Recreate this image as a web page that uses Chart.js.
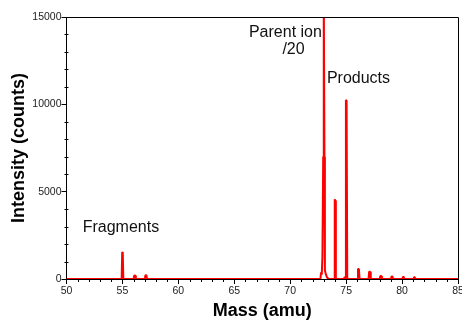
<!DOCTYPE html>
<html>
<head>
<meta charset="utf-8">
<script src="https://cdn.jsdelivr.net/npm/chart.js@4"></script>
<style>
  html, body { margin: 0; padding: 0; background: #fff; overflow: hidden; }
  #wrap { width: 462px; height: 322px; position: relative; }
</style>
</head>
<body>
<div id="wrap"><canvas id="spectrumChart"></canvas></div>
<script>
const spectrumCtx = document.getElementById("spectrumChart");

// Mass spectrum trace (parent ion already scaled by 1/20)
const massValues = [
  50, 54.93, 54.98, 55.03, 55.08,
  56.0, 56.06, 56.14, 56.2, 57.0, 57.06, 57.14, 57.2,
  72.7, 72.76, 72.82, 72.88, 72.95, 73.0, 73.06, 73.1, 73.2, 73.3, 73.45,
  73.94, 73.98, 74.03, 74.08,
  74.8, 74.88, 74.94, 74.98, 75.04, 75.1,
  76.0, 76.06, 76.14, 76.2, 77.0, 77.06, 77.14, 77.2,
  78.0, 78.06, 78.14, 78.2, 79.0, 79.06, 79.14, 79.2,
  80.0, 80.06, 80.14, 80.2, 81.0, 81.06, 81.14, 81.2, 85,
];
const countValues = [
  0, 0, 1550, 1500, 0,
  0, 200, 200, 0, 0, 220, 220, 0,
  0, 380, 250, 1300, 7000, 16500, 7000, 500, 250, 80, 0,
  0, 4560, 4500, 0,
  0, 120, 50, 10250, 10200, 0,
  0, 570, 570, 0, 0, 420, 420, 0,
  0, 170, 170, 0, 0, 150, 150, 0,
  0, 120, 120, 0, 0, 100, 100, 0, 0,
];

const xTickLabels = [50, 55, 60, 65, 70, 75, 80, 85];
const yTickLabels = [0, 5000, 10000, 15000];

// Text labels placed in data units: [text, mass, counts, align]
const notes = [
  ["Fragments", 51.45, 2700, "left"],
  ["Parent ion", 72.83, 13830, "right"],
  ["/20", 69.3, 12900, "left"],
  ["Products", 73.28, 11200, "left"],
];

const fontFamily = "'Liberation Sans', Arial, sans-serif";

// Frame on top/right plus short minor ticks and the text notes.
const decorPlugin = {
  id: "decor",
  afterDraw(chart) {
    const { ctx, chartArea, scales } = chart;
    ctx.save();
    ctx.strokeStyle = "#000";
    ctx.lineWidth = 1;
    ctx.beginPath();
    ctx.moveTo(chartArea.left, chartArea.top + 0.5);
    ctx.lineTo(chartArea.right + 0.5, chartArea.top + 0.5);
    ctx.lineTo(chartArea.right + 0.5, chartArea.bottom);
    ctx.stroke();

    ctx.beginPath();
    scales.x.ticks.forEach((t) => {
      if (xTickLabels.includes(t.value)) return;
      const px = Math.round(scales.x.getPixelForValue(t.value)) + 0.5;
      ctx.moveTo(px, chartArea.bottom);
      ctx.lineTo(px, chartArea.bottom + 3);
    });
    scales.y.ticks.forEach((t) => {
      if (yTickLabels.includes(t.value)) return;
      const py = Math.round(scales.y.getPixelForValue(t.value)) + 0.5;
      ctx.moveTo(chartArea.left - 2, py);
      ctx.lineTo(chartArea.left + 2, py);
    });
    ctx.stroke();

    ctx.fillStyle = "#111";
    ctx.font = `16px ${fontFamily}`;
    ctx.textBaseline = "alphabetic";
    notes.forEach(([text, mass, counts, align]) => {
      ctx.textAlign = align;
      ctx.fillText(text, scales.x.getPixelForValue(mass), scales.y.getPixelForValue(counts));
    });
    ctx.restore();
  },
};

const buildSpectrumChart = () => {
  new Chart(spectrumCtx, {
    type: "line",
    data: {
      datasets: [
        {
          label: "Intensity",
          data: massValues.map((m, i) => ({ x: m, y: countValues[i] })),
          borderColor: "#ff0000",
          backgroundColor: "#ff0000",
          borderWidth: 2,
          borderJoinStyle: "bevel",
          pointRadius: 0,
          tension: 0,
        },
      ],
    },
    options: {
      responsive: true,
      maintainAspectRatio: false,
      animation: false,
      layout: { padding: { top: 17, right: 4, left: 0, bottom: 0 } },
      plugins: {
        legend: { display: false },
        tooltip: { enabled: false },
      },
      scales: {
        x: {
          type: "linear",
          min: 50,
          max: 85,
          afterFit: (scale) => {
            scale.height = 43;
            scale.paddingLeft = 0;
            scale.paddingRight = 0;
          },
          border: { color: "#000", width: 1 },
          grid: {
            drawOnChartArea: false,
            tickLength: 5,
            tickColor: (c) => (xTickLabels.includes(c.tick.value) ? "#000" : "transparent"),
          },
          ticks: {
            stepSize: 1,
            autoSkip: false,
            maxRotation: 0,
            padding: 1,
            color: "#222",
            font: { family: fontFamily, size: 10.5 },
            callback: (value) => (xTickLabels.includes(value) ? String(value) : ""),
          },
          title: {
            display: true,
            text: "Mass (amu)",
            color: "#000",
            font: { family: fontFamily, size: 18, weight: "bold" },
            padding: { top: 0, bottom: 0 },
          },
        },
        y: {
          min: 0,
          max: 15000,
          afterFit: (scale) => {
            scale.width = 66.5;
            scale.paddingTop = 0;
            scale.paddingBottom = 0;
          },
          border: { color: "#000", width: 1 },
          grid: {
            drawOnChartArea: false,
            tickLength: 5,
            tickColor: (c) => (yTickLabels.includes(c.tick.value) ? "#000" : "transparent"),
          },
          ticks: {
            stepSize: 1000,
            autoSkip: false,
            padding: 0,
            color: "#222",
            font: { family: fontFamily, size: 10.5 },
            callback: (value) => (yTickLabels.includes(value) ? String(value) : ""),
          },
          title: {
            display: true,
            text: "Intensity (counts)",
            color: "#000",
            font: { family: fontFamily, size: 18, weight: "bold" },
            padding: { top: 8, bottom: 0 },
          },
        },
      },
    },
    plugins: [decorPlugin],
  });
};

buildSpectrumChart();
</script>
</body>
</html>
